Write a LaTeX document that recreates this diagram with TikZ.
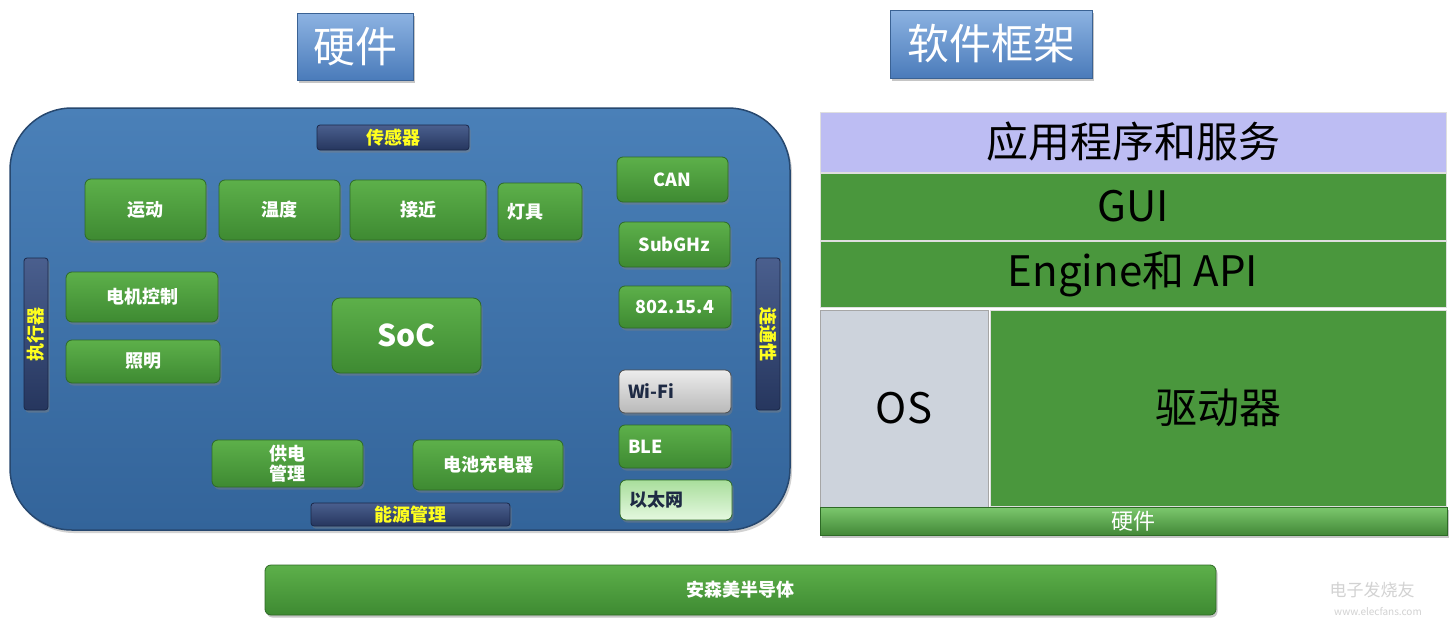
\documentclass[tikz,border=0pt]{standalone}
\usepackage{fontspec}
\setmainfont{Noto Sans CJK SC}
\usetikzlibrary{shadows}
\definecolor{gtop}{HTML}{5DB04A}
\definecolor{gbot}{HTML}{3E8A32}
\definecolor{gedge}{HTML}{2E6A26}
\definecolor{gflat}{HTML}{4A973D}
\definecolor{hwtop}{HTML}{7CC86E}
\definecolor{ethtop}{HTML}{A9DE9C}
\definecolor{ethbot}{HTML}{E4F8DF}
\definecolor{ntop}{HTML}{4A5F8E}
\definecolor{nbot}{HTML}{26365E}
\definecolor{nedge}{HTML}{1A2748}
\definecolor{ptop}{HTML}{4A80B8}
\definecolor{pbot}{HTML}{33649A}
\definecolor{pedge}{HTML}{27486F}
\definecolor{ttop}{HTML}{8DB3E2}
\definecolor{tbot}{HTML}{4A7BBA}
\definecolor{tedge}{HTML}{3A6294}
\definecolor{lav}{HTML}{BDBDF3}
\definecolor{osgrey}{HTML}{CDD3DC}
\definecolor{darktext}{HTML}{1E2A44}
\definecolor{ylw}{HTML}{FFFF1E}
\tikzset{
  shad/.style={drop shadow={opacity=0.45,shadow xshift=1.5pt,shadow yshift=-2.5pt}},
  gbox/.style={rectangle, rounded corners=6pt, top color=gtop, bottom color=gbot,
    draw=gedge, line width=0.8pt, text=white, inner sep=0pt, shad,
    font=\bfseries\fontsize{18}{21}\selectfont},
  lbox/.style={gbox, align=left, inner xsep=9pt, minimum height=#1},
  bar/.style={rectangle, rounded corners=3pt, top color=ntop, bottom color=nbot,
    draw=nedge, line width=0.8pt, text=ylw, inner sep=0pt, shad,
    font=\bfseries\fontsize{18}{20}\selectfont},
  titlebox/.style={rectangle, top color=ttop, bottom color=tbot, draw=tedge,
    line width=0.8pt, text=white, inner sep=0pt, shad,
    font=\fontsize{42}{46}\selectfont},
  layer/.style={rectangle, draw=white!75!gray, line width=1pt, inner sep=0pt,
    text=black, font=\fontsize{42}{46}\selectfont},
}
\begin{document}
\begin{tikzpicture}[x=1pt,y=-1pt]
\useasboundingbox (0,0) rectangle (1456,629);
\fill[white] (0,0) rectangle (1456,629);

% titles
\node[titlebox, minimum width=116pt, minimum height=67pt] (t1) at (355,46.5) {硬件};
\node[titlebox, minimum width=202pt, minimum height=68pt] (t2) at (991,44) {软件框架};

% hardware panel
\node[rectangle, rounded corners=62pt, top color=ptop, bottom color=pbot, draw=pedge,
  line width=1.5pt, minimum width=780pt, minimum height=422pt,
  drop shadow={opacity=0.35,shadow xshift=2pt,shadow yshift=-3pt}] (panel) at (400,319) {};

% bars
\node[bar, minimum width=152pt, minimum height=25pt] (sens) at (393,137.5) {传感器};
\node[bar, minimum width=152pt, minimum height=24pt, rotate=90] (act) at (36,334) {执行器};
\node[bar, minimum width=152pt, minimum height=24pt, rotate=-90] (conn) at (768,334) {连通性};
\node[bar, minimum width=199pt, minimum height=23pt] (power) at (410.5,514.5) {能源管理};

% sensor boxes
\node[gbox, minimum width=121pt, minimum height=61pt] (yundong) at (145.5,209.5) {运动};
\node[gbox, minimum width=121pt, minimum height=60pt] (wendu) at (279.5,210) {温度};
\node[gbox, minimum width=136pt, minimum height=60pt] (jiejin) at (418,210) {接近};
\node[lbox=57pt, text width=66pt] (dengju) at (540,211.5) {灯具};

% actuators
\node[gbox, minimum width=152pt, minimum height=50pt] (motor) at (142,297) {电机控制};
\node[gbox, minimum width=154pt, minimum height=43pt] (light) at (143,361.5) {照明};

% SoC
\node[gbox, rounded corners=8pt, minimum width=149pt, minimum height=75pt,
  font=\bfseries\fontsize{30}{34}\selectfont] (soc) at (406.5,335.5) {SoC};

% power
\node[gbox, minimum width=151pt, minimum height=47pt, align=center,
  font=\bfseries\fontsize{18}{20}\selectfont] (psu) at (287.5,463.5) {供电\\管理};
\node[gbox, minimum width=150pt, minimum height=50pt] (charger) at (488,465) {电池充电器};

% connectivity
\node[gbox, minimum width=111pt, minimum height=45pt] (can) at (672.5,179.5) {CAN};
\node[gbox, minimum width=111pt, minimum height=45pt] (subghz) at (674.5,244.5) {SubGHz};
\node[gbox, minimum width=112pt, minimum height=42pt] (ieee) at (675,307) {802.15.4};
\node[lbox=43pt, text width=94pt, top color=gray!15, bottom color=gray!55, draw=gray!60!black,
  text=darktext] (wifi) at (675,391.5) {Wi-Fi};
\node[lbox=43pt, text width=94pt] (ble) at (675,446.5) {BLE};
\node[lbox=40pt, text width=94pt, top color=ethtop, bottom color=ethbot,
  draw=gedge, text=darktext] (eth) at (676,500) {以太网};

% software stack
\node[layer, fill=lav, minimum width=626pt, minimum height=60pt] (app) at (1133,142) {应用程序和服务};
\node[layer, fill=gflat, minimum width=626pt, minimum height=67pt] (gui) at (1133,206.5) {GUI};
\node[layer, fill=gflat, minimum width=626pt, minimum height=66pt] (engine) at (1133,274) {Engine和 API};
\node[layer, fill=osgrey, draw=gray!70, minimum width=168pt, minimum height=197pt] (os) at (904,408.5) {OS};
\node[layer, fill=gflat, minimum width=456pt, minimum height=196pt] (driver) at (1218,408) {驱动器};
\node[rectangle, top color=hwtop, bottom color=gflat!90!black, draw=gedge,
  line width=0.8pt, minimum width=627pt, minimum height=28pt, inner sep=0pt, text=white,
  font=\fontsize{22}{24}\selectfont, shad] (hw) at (1133.5,521) {硬件};

% bottom bar
\node[gbox, minimum width=951pt, minimum height=50pt] (onsemi) at (740.5,590) {安森美半导体};

% watermark
\node[text=gray!35, font=\itshape\fontsize{17}{19}\selectfont] (wm1) at (1372,590) {电子发烧友};
\node[text=gray!35, font=\fontsize{10}{12}\selectfont] (wm2) at (1378,612) {www.elecfans.com};
\end{tikzpicture}
\end{document}
